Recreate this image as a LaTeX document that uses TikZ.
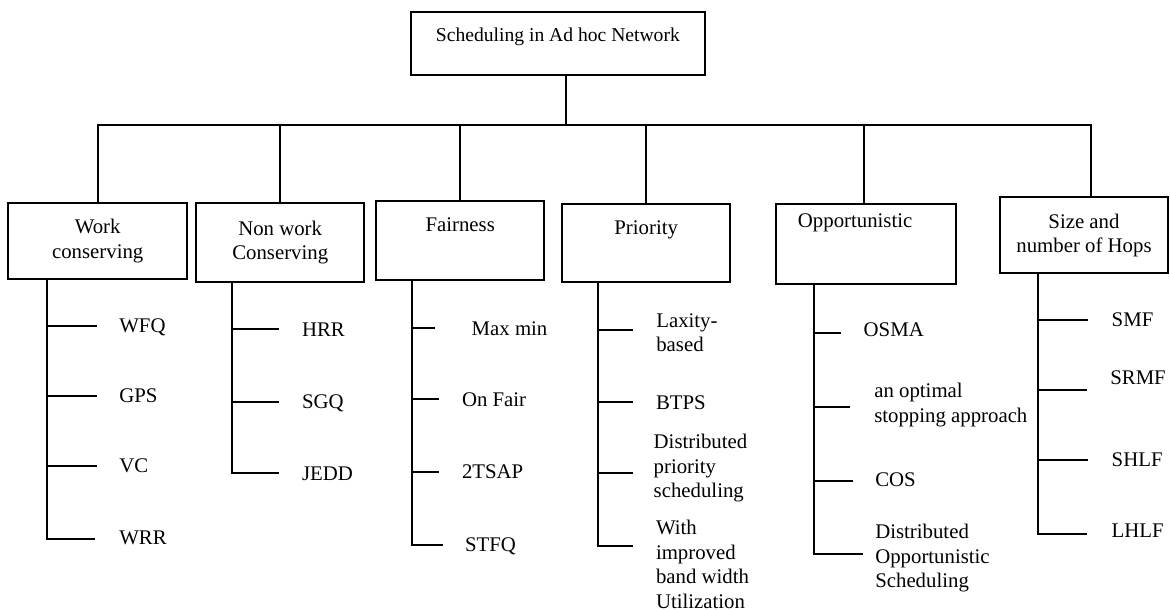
\documentclass[tikz,border=0pt]{standalone}
\usepackage{fontspec}
\setmainfont{Liberation Serif}
\newcommand\fsz{\fontsize{20.8}{24.5}\selectfont}
\newcommand\fszt{\fontsize{19.6}{24}\selectfont}
\begin{document}
\begin{tikzpicture}[x=1pt,y=-1pt,line width=2pt,
  box/.style={draw, rectangle, inner sep=0pt, align=center, font=\fsz},
  leaf/.style={anchor=west, inner sep=0pt, font=\fsz, text height=13.5pt, text depth=0pt},
  leafm/.style={anchor=west, inner sep=0pt, font=\fsz, align=left}]
\useasboundingbox (0,0) rectangle (1170,610);

% root
\node[box, font=\fszt, minimum width=294.3, minimum height=63, text height=14pt, text depth=17pt] (root) at (557.9,43.5) {Scheduling in Ad hoc Network};

% category boxes
\node[box, minimum width=179.3, minimum height=75.7] (wc) at (97.7,241.2) {Work\\conserving};
\node[box, minimum width=168.3, minimum height=78.7] (nw) at (280.2,242.3) {Non work\\Conserving};
\node[box, minimum width=168.3, minimum height=79, text height=14pt, text depth=32pt] (fa) at (460.2,240.5) {Fairness};
\node[box, minimum width=168.3, minimum height=78.3, text height=14pt, text depth=31pt] (pr) at (646.2,242.8) {Priority};
\node[box, minimum width=179.7, minimum height=80.3, text height=14pt, text depth=46pt, align=left, text width=135.7pt, inner xsep=22pt] (op) at (865.8,243.8) {Opportunistic};
\node[box, minimum width=168, minimum height=76] (sz) at (1084,235.3) {Size and\\number of Hops};

% bus
\coordinate (j0) at (565.7,124.5);
\coordinate (d1) at (98,124.5);
\coordinate (d2) at (280,124.5);
\coordinate (d3) at (460.3,124.5);
\coordinate (d4) at (646,124.5);
\coordinate (d5) at (864,124.5);
\coordinate (d6) at (1091,124.5);
\draw (root.south -| j0) -- (j0);
\draw (wc.north -| d1) -- (d1) -- (d6) -- (sz.north -| d6);
\draw (d2) -- (nw.north -| d2);
\draw (d3) -- (fa.north -| d3);
\draw (d4) -- (pr.north -| d4);
\draw (d5) -- (op.north -| d5);

% trunks
\coordinate (t1) at (46.7,0);
\coordinate (t2) at (232.3,0);
\coordinate (t3) at (412.3,0);
\coordinate (t4) at (598.3,0);
\coordinate (t5) at (814.3,0);
\coordinate (t6) at (1038.3,0);

% column 1: Work conserving
\node[leaf] (w1) at (118.3,326) {WFQ};
\node[leaf] (w2) at (118.3,396) {GPS};
\node[leaf] (w3) at (118.3,466) {VC};
\node[leaf] (w4) at (118.3,538) {WRR};
\draw (wc.south -| t1) -- (46.7,539.3) -- ++(48.3,0);
\draw (46.7,326) -- ++(50,0);
\draw (46.7,396) -- ++(50,0);
\draw (46.7,466) -- ++(50,0);

% column 2: Non work conserving
\node[leaf] (n1) at (301,329.3) {HRR};
\node[leaf] (n2) at (301,401.7) {SGQ};
\node[leaf] (n3) at (301,473.3) {JEDD};
\draw (nw.south -| t2) -- (232.3,473.3) -- ++(46.7,0);
\draw (232.3,329.3) -- ++(46.7,0);
\draw (232.3,401.7) -- ++(46.7,0);

% column 3: Fairness
\node[leaf] (f1) at (470.7,328.3) {Max min};
\node[leaf] (f2) at (461,399.3) {On Fair};
\node[leaf] (f3) at (461,471.7) {2TSAP};
\node[leaf] (f4) at (464,544.3) {STFQ};
\draw (fa.south -| t3) -- (412.3,545) -- ++(30.4,0);
\draw (412.3,327.7) -- ++(22.7,0);
\draw (412.3,399.3) -- ++(27,0);
\draw (412.3,471.7) -- ++(27,0);

% column 4: Priority
\node[leafm] (p1) at (655.3,332.5) {Laxity-\\based};
\node[leaf] (p2) at (655,402.3) {BTPS};
\node[leafm] (p3) at (652.7,468.5) {Distributed\\priority\\scheduling};
\node[leafm] (p4) at (655,564.5) {With\\improved\\band width\\Utilization};
\draw (pr.south -| t4) -- (598.3,545.7) -- ++(35,0);
\draw (598.3,330) -- ++(35,0);
\draw (598.3,402.3) -- ++(35,0);
\draw (598.3,473.3) -- ++(35,0);

% column 5: Opportunistic
\node[leaf] (o1) at (862.7,330) {OSMA};
\node[leafm] (o2) at (873.3,405) {an optimal\\stopping approach};
\node[leaf] (o3) at (874.3,480) {COS};
\node[leafm] (o4) at (874.3,558.5) {Distributed\\Opportunistic\\Scheduling};
\draw (op.south -| t5) -- (814.3,554.3) -- ++(48.4,0);
\draw (814.3,332.7) -- ++(26.7,0);
\draw (814.3,406.7) -- ++(35.7,0);
\draw (814.3,481) -- ++(38.4,0);

% column 6: Size and number of hops
\node[leaf] (s1) at (1110.7,320) {SMF};
\node[leaf] (s2) at (1109.3,377.3) {SRMF};
\node[leaf] (s3) at (1110.7,460) {SHLF};
\node[leaf] (s4) at (1110.7,530.7) {LHLF};
\draw (sz.south -| t6) -- (1038.3,534) -- ++(48.4,0);
\draw (1038.3,320) -- ++(50,0);
\draw (1038.3,390) -- ++(48.4,0);
\draw (1038.3,460) -- ++(49.7,0);
\end{tikzpicture}
\end{document}
